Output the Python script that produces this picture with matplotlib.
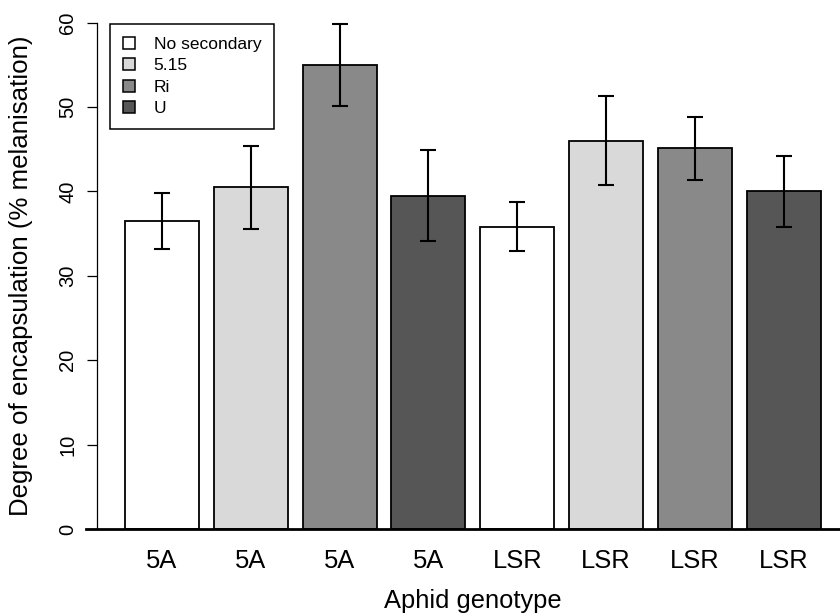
import matplotlib
matplotlib.use("Agg")
import matplotlib.pyplot as plt
from matplotlib.patches import Patch
import numpy as np

plt.rcParams['font.family'] = ['Liberation Sans', 'DejaVu Sans']

# encapsulation means and standard errors per aphid line
genotype = ['5A', '5A', '5A', '5A', 'LSR', 'LSR', 'LSR', 'LSR']
secondary = ['No secondary', '5.15', 'Ri', 'U', 'No secondary', '5.15', 'Ri', 'U']
melanisation = [36.5, 40.5, 55.0, 39.5, 35.8, 46.0, 45.1, 40.0]
se = [3.3, 4.9, 4.85, 5.35, 2.9, 5.25, 3.7, 4.2]

legend_labels = ['No secondary', '5.15', 'Ri', 'U']
fills = {'No secondary': 'white', '5.15': '#d9d9d9', 'Ri': '#898989', 'U': '#565656'}

fig = plt.figure(figsize=(8.4, 6.14), dpi=100)
ax = fig.add_axes([97.2 / 840, 64.75 / 614, 751.2 / 840, 546.9 / 614])

# barplot layout: width 1, gap 0.2
x = 0.7 + 1.2 * np.arange(len(melanisation))
ax.bar(x, melanisation, width=1.0, color=[fills[s] for s in secondary],
       edgecolor='black', linewidth=1.3, zorder=2)
ax.errorbar(x, melanisation, yerr=se, fmt='none', ecolor='black',
            elinewidth=1.5, capsize=6, capthick=1.5, zorder=3)

ax.set_xlim(-0.176, 9.976)
ax.set_ylim(-2.4, 62.4)

# zero line
ax.axhline(0, xmin=-11 / 751.2, xmax=1, color='black', lw=2.0, clip_on=False, zorder=4)

for s in ['top', 'right', 'bottom']:
    ax.spines[s].set_visible(False)
ax.spines['left'].set_bounds(0, 60)
ax.spines['left'].set_linewidth(0.9)

ax.set_yticks(np.arange(0, 61, 10))
ax.tick_params(axis='y', length=7.2, width=0.9, pad=7, labelsize=14.5)
for lab in ax.get_yticklabels():
    lab.set_rotation(90)
    lab.set_va('center')

ax.set_xticks(x, genotype)
ax.tick_params(axis='x', length=0, pad=0, labelsize=18.4)

ax.set_xlabel('Aphid genotype', fontsize=18.4, va='baseline')
ax.xaxis.set_label_coords(0.5, (6 - 64.75) / 546.9)
ax.set_ylabel('Degree of encapsulation (% melanisation)', fontsize=18.6, va='center')
ax.yaxis.set_label_coords((21 - 97.2) / 751.2, 0.5)

handles = [Patch(facecolor=fills[k], edgecolor='black', linewidth=1.1) for k in legend_labels]
leg = ax.legend(handles, legend_labels, loc='upper left',
                bbox_to_anchor=(110 / 840, 1 - 24 / 614), bbox_transform=fig.transFigure,
                borderaxespad=0, fontsize=12.5, fancybox=False, framealpha=1,
                edgecolor='black', handlelength=0.68, handleheight=0.68,
                handletextpad=1.1, labelspacing=0.37, borderpad=0.74)
leg.get_frame().set_linewidth(1.1)

fig.savefig('out.png', dpi=100)
